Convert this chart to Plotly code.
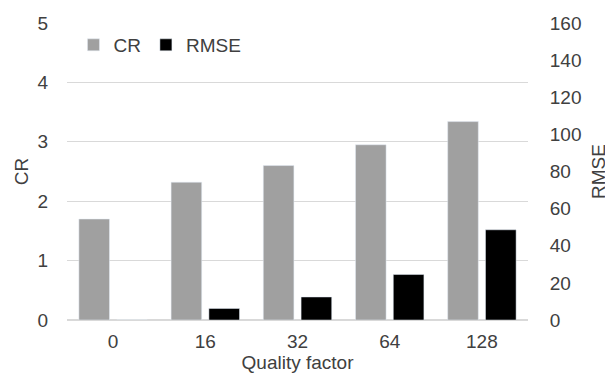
import plotly.graph_objects as go

categories = ["0", "16", "32", "64", "128"]
cr_values = [1.70, 2.32, 2.60, 2.95, 3.34]
rmse_values = [0.0, 6.2, 12.4, 24.5, 48.6]
left_ticks = [0, 1, 2, 3, 4, 5]
right_ticks = [0, 20, 40, 60, 80, 100, 120, 140, 160]

FONT = "Liberation Sans, Arial, sans-serif"
TXT = "#404040"
FS = 19

fig = go.Figure()
fig.add_trace(go.Bar(x=categories, y=cr_values, name="CR", marker_color="#a0a0a0",
                     offsetgroup="1", yaxis="y"))
fig.add_trace(go.Bar(x=categories, y=rmse_values, name="RMSE", marker_color="#000000",
                     offsetgroup="2", yaxis="y2"))

# the page body adds an 8px offset, margins compensate for it
fig.update_layout(
    width=613, height=375,
    margin=dict(l=59, r=93, t=15, b=63, autoexpand=False),
    paper_bgcolor="white", plot_bgcolor="white",
    font=dict(family=FONT, size=FS, color=TXT),
    barmode="group", bargap=0.18, bargroupgap=0.19,
    showlegend=True,
    legend=dict(orientation="h", x=0.014, y=0.99, xanchor="left", yanchor="top",
                bgcolor="rgba(0,0,0,0)", font=dict(size=FS, color=TXT),
                itemwidth=30, tracegroupgap=0),
    xaxis=dict(type="category", showgrid=False, showline=False, zeroline=False,
               automargin=False,
               ticks="outside", ticklen=4, tickcolor="rgba(0,0,0,0)",
               title=dict(text="Quality factor", standoff=3, font=dict(size=FS, color=TXT))),
    yaxis=dict(range=[0, 5], tickvals=left_ticks, showgrid=True, gridcolor="#d9d9d9",
               gridwidth=1, zeroline=True, zerolinecolor="#d9d9d9", showline=False,
               automargin=False,
               ticks="outside", ticklen=14, tickcolor="rgba(0,0,0,0)",
               title=dict(text="CR", standoff=3, font=dict(size=FS, color=TXT))),
    yaxis2=dict(range=[0, 160], tickvals=right_ticks, overlaying="y", side="right",
                showgrid=False, zeroline=False, showline=False, automargin=False,
                ticks="outside", ticklen=17, tickcolor="rgba(0,0,0,0)",
                title=dict(text="RMSE", standoff=11, font=dict(size=FS, color=TXT))),
)

fig.write_html("out.html")
